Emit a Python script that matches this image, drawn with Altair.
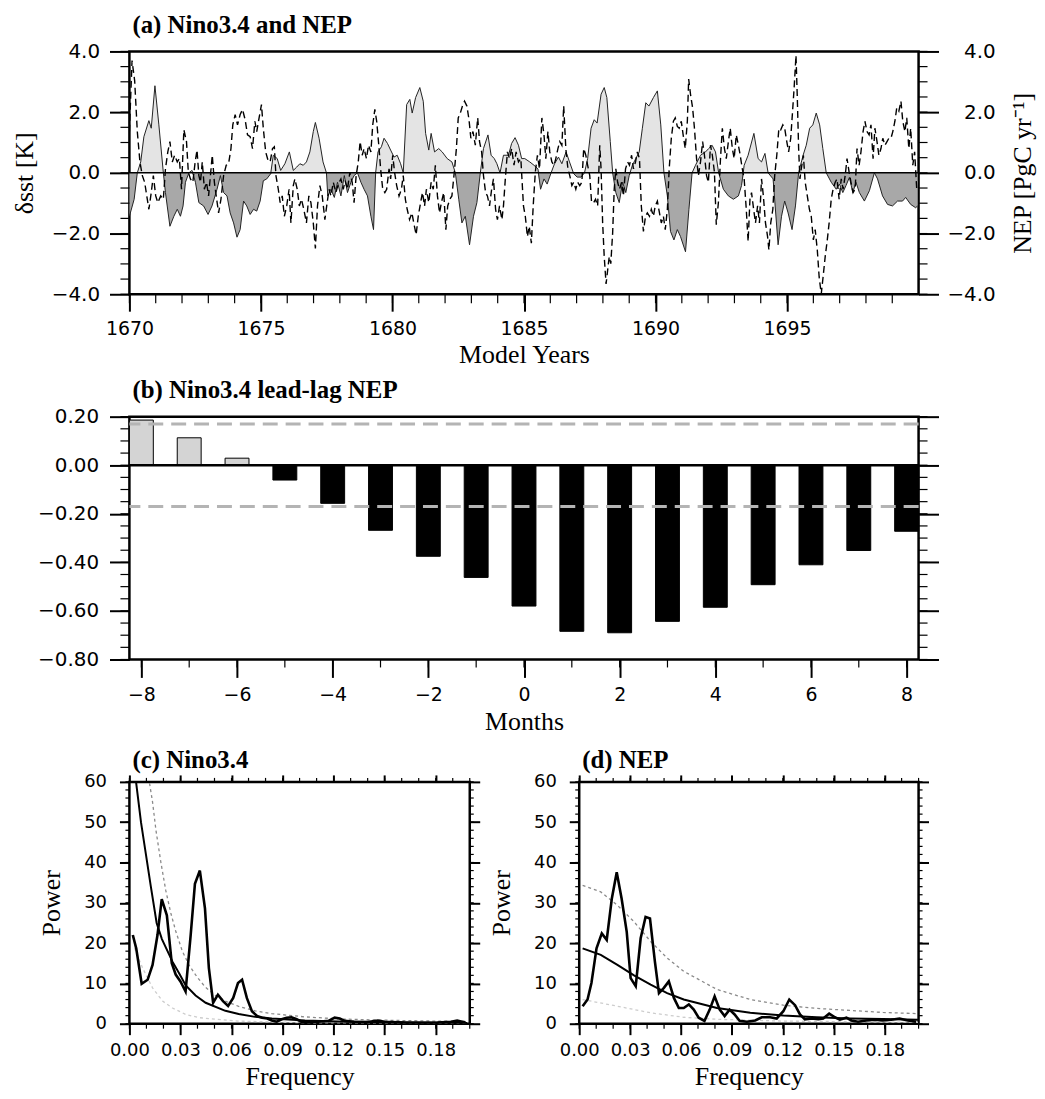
import altair as alt
import pandas as pd

# ---------------- Panel (a): Nino3.4 (solid, filled) and NEP (dashed) ----------------
nino_year = [1670.00, 1670.18, 1670.30, 1670.43, 1670.55, 1670.74, 1670.83, 1670.97, 1671.12, 1671.29,
             1671.37, 1671.54, 1671.69, 1671.82, 1671.94, 1672.04, 1672.13, 1672.26, 1672.38, 1672.51,
             1672.64, 1672.82, 1672.99, 1673.14, 1673.33, 1673.46, 1673.58, 1673.71, 1673.83, 1673.96,
             1674.09, 1674.21, 1674.34, 1674.46, 1674.59, 1674.72, 1674.84, 1674.97, 1675.09, 1675.22,
             1675.37, 1675.47, 1675.62, 1675.75, 1675.91, 1676.08, 1676.23, 1676.36, 1676.48, 1676.61,
             1676.73, 1676.86, 1676.99, 1677.07, 1677.21, 1677.36, 1677.49, 1677.54, 1677.66, 1677.79,
             1677.91, 1678.04, 1678.17, 1678.29, 1678.42, 1678.54, 1678.67, 1678.80, 1678.92, 1679.05,
             1679.18, 1679.28, 1679.36, 1679.45, 1679.58, 1679.68, 1679.81, 1679.93, 1680.06, 1680.18,
             1680.31, 1680.41, 1680.54, 1680.66, 1680.75, 1680.88, 1681.04, 1681.17, 1681.26, 1681.38,
             1681.47, 1681.60, 1681.76, 1681.89, 1682.08, 1682.26, 1682.39, 1682.52, 1682.64, 1682.77,
             1682.93, 1683.08, 1683.21, 1683.34, 1683.46, 1683.63, 1683.75, 1683.87, 1683.97, 1684.09,
             1684.22, 1684.41, 1684.53, 1684.66, 1684.79, 1684.91, 1685.03, 1685.22, 1685.38, 1685.53,
             1685.63, 1685.76, 1685.88, 1686.03, 1686.16, 1686.31, 1686.44, 1686.60, 1686.73, 1686.89,
             1687.02, 1687.17, 1687.30, 1687.42, 1687.55, 1687.67, 1687.78, 1687.93, 1688.05, 1688.15,
             1688.28, 1688.37, 1688.49, 1688.62, 1688.75, 1688.87, 1689.00, 1689.12, 1689.25, 1689.38,
             1689.50, 1689.63, 1689.75, 1689.92, 1690.07, 1690.20, 1690.32, 1690.45, 1690.57, 1690.70,
             1690.83, 1690.95, 1691.14, 1691.27, 1691.39, 1691.52, 1691.71, 1691.90, 1692.02, 1692.15,
             1692.28, 1692.40, 1692.58, 1692.77, 1692.96, 1693.15, 1693.27, 1693.37, 1693.52, 1693.74,
             1693.90, 1694.03, 1694.16, 1694.28, 1694.47, 1694.66, 1694.79, 1694.91, 1695.04, 1695.19,
             1695.32, 1695.44, 1695.61, 1695.73, 1695.86, 1695.98, 1696.11, 1696.24, 1696.36, 1696.49,
             1696.68, 1696.87, 1696.99, 1697.12, 1697.24, 1697.37, 1697.50, 1697.62, 1697.75, 1697.94,
             1698.13, 1698.32, 1698.44, 1698.63, 1698.82, 1699.01, 1699.20, 1699.39, 1699.51, 1699.70,
             1699.89, 1699.96]
nino_sst = [-1.43, -0.87, 0.00, 0.36, 1.19, 1.72, 1.47, 2.87, 1.58, 0.00,
            -0.65, -1.76, -1.43, -1.20, -1.43, -1.09, -0.31, 0.00, 0.08, -0.31,
            -0.98, -1.09, -1.37, -1.09, -0.54, -0.09, -0.65, -0.76, -1.32, -1.65,
            -2.12, -1.87, -0.93, -1.09, -1.37, -1.20, -1.26, -0.93, -0.26, -0.20,
            -0.03, 0.58, 0.47, 0.08, 0.30, 0.69, 0.08, 0.19, 0.30, 0.25,
            0.36, 0.69, 1.36, 1.66, 1.14, 0.36, 0.00, -0.76, -0.54, -0.81,
            -0.31, -0.76, -0.09, -0.65, -0.31, -0.09, 0.00, -0.31, -0.54, -0.76,
            -1.43, -1.87, 0.00, 0.69, 0.86, 1.14, 0.97, 0.75, 0.52, 0.58,
            0.30, 0.00, 2.25, 2.42, 1.97, 2.48, 2.81, 2.36, 1.30, 0.75,
            1.30, 0.69, 0.80, 0.69, 0.47, 0.36, 0.00, -0.87, -1.65, -1.43,
            -2.37, -1.43, -0.98, 0.00, 0.80, 1.25, 0.58, 0.47, 0.30, 0.00,
            0.58, 0.58, 0.97, 1.16, 0.91, 0.47, 0.47, 0.36, 0.25, 0.13,
            -0.54, -0.20, -0.37, 0.00, 0.30, 0.52, 0.30, 0.69, 0.36, -0.03,
            -0.14, -0.14, 0.00, 0.47, 1.47, 1.75, 1.64, 2.59, 2.81, 2.48,
            1.03, 0.00, -0.65, -0.98, -0.31, -0.65, -0.09, 0.25, 0.47, 0.69,
            1.47, 2.31, 2.20, 2.48, 2.70, 1.58, 0.00, -0.76, -1.93, -2.21,
            -1.87, -2.10, -2.60, -1.20, 0.00, 0.25, 0.58, 0.69, 0.80, 0.91,
            0.69, 0.00, -0.54, -0.76, -0.87, -0.76, -0.42, 0.25, 0.58, 1.30,
            0.47, 0.36, 0.64, 0.00, -0.20, -2.37, -1.43, -0.93, -1.32, -1.87,
            -1.09, 0.00, 0.58, 0.91, 1.47, 1.58, 1.97, 1.58, 0.80, 0.00,
            -0.31, -0.54, -0.37, -0.65, -0.42, -0.15, -0.65, -0.31, -0.65, -0.93,
            -0.59, 0.00, -0.20, -0.76, -1.04, -1.09, -0.93, -0.93, -0.81, -1.04,
            -1.15, -1.09]

nep_year = [1670.00, 1670.10, 1670.20, 1670.30, 1670.40, 1670.49, 1670.58, 1670.66, 1670.74, 1670.83,
            1670.91, 1671.00, 1671.08, 1671.19, 1671.29, 1671.37, 1671.46, 1671.54, 1671.63, 1671.72,
            1671.82, 1671.90, 1671.98, 1672.07, 1672.17, 1672.24, 1672.32, 1672.41, 1672.50, 1672.57,
            1672.64, 1672.70, 1672.77, 1672.85, 1672.93, 1673.01, 1673.08, 1673.15, 1673.23, 1673.30,
            1673.39, 1673.48, 1673.58, 1673.68, 1673.77, 1673.86, 1673.93, 1674.02, 1674.11, 1674.21,
            1674.30, 1674.40, 1674.49, 1674.59, 1674.68, 1674.77, 1674.84, 1674.93, 1675.02, 1675.09,
            1675.18, 1675.27, 1675.35, 1675.44, 1675.51, 1675.57, 1675.66, 1675.73, 1675.81, 1675.89,
            1675.98, 1676.07, 1676.14, 1676.23, 1676.29, 1676.38, 1676.46, 1676.54, 1676.63, 1676.73,
            1676.82, 1676.90, 1676.99, 1677.07, 1677.15, 1677.24, 1677.33, 1677.43, 1677.50, 1677.59,
            1677.66, 1677.75, 1677.85, 1677.94, 1678.04, 1678.13, 1678.20, 1678.29, 1678.38, 1678.47,
            1678.54, 1678.62, 1678.70, 1678.77, 1678.85, 1678.92, 1679.01, 1679.09, 1679.18, 1679.25,
            1679.33, 1679.40, 1679.48, 1679.55, 1679.63, 1679.71, 1679.78, 1679.87, 1679.93, 1680.01,
            1680.08, 1680.16, 1680.25, 1680.34, 1680.41, 1680.49, 1680.56, 1680.65, 1680.74, 1680.81,
            1680.90, 1680.98, 1681.07, 1681.14, 1681.22, 1681.29, 1681.38, 1681.47, 1681.55, 1681.63,
            1681.71, 1681.79, 1681.86, 1681.95, 1682.03, 1682.10, 1682.18, 1682.26, 1682.35, 1682.43,
            1682.50, 1682.58, 1682.66, 1682.74, 1682.83, 1682.91, 1682.98, 1683.06, 1683.15, 1683.24,
            1683.31, 1683.39, 1683.46, 1683.54, 1683.61, 1683.69, 1683.77, 1683.84, 1683.92, 1683.99,
            1684.07, 1684.16, 1684.22, 1684.29, 1684.37, 1684.45, 1684.53, 1684.62, 1684.70, 1684.79,
            1684.88, 1684.98, 1685.05, 1685.13, 1685.20, 1685.28, 1685.35, 1685.43, 1685.51, 1685.59,
            1685.68, 1685.76, 1685.83, 1685.91, 1685.98, 1686.06, 1686.14, 1686.21, 1686.29, 1686.36,
            1686.44, 1686.51, 1686.59, 1686.67, 1686.74, 1686.82, 1686.89, 1686.97, 1687.04, 1687.12,
            1687.20, 1687.27, 1687.35, 1687.42, 1687.50, 1687.57, 1687.65, 1687.72, 1687.80, 1687.88,
            1687.93, 1687.99, 1688.05, 1688.12, 1688.18, 1688.24, 1688.30, 1688.37, 1688.43, 1688.49,
            1688.56, 1688.63, 1688.71, 1688.78, 1688.86, 1688.94, 1689.01, 1689.09, 1689.16, 1689.24,
            1689.31, 1689.39, 1689.46, 1689.54, 1689.62, 1689.69, 1689.77, 1689.84, 1689.92, 1689.99,
            1690.07, 1690.15, 1690.22, 1690.30, 1690.37, 1690.45, 1690.52, 1690.60, 1690.68, 1690.75,
            1690.83, 1690.90, 1690.98, 1691.05, 1691.13, 1691.21, 1691.26, 1691.33, 1691.41, 1691.48,
            1691.56, 1691.63, 1691.71, 1691.79, 1691.86, 1691.94, 1692.01, 1692.09, 1692.16, 1692.24,
            1692.31, 1692.39, 1692.47, 1692.54, 1692.62, 1692.69, 1692.77, 1692.84, 1692.92, 1692.99,
            1693.07, 1693.15, 1693.22, 1693.30, 1693.37, 1693.45, 1693.52, 1693.59, 1693.65, 1693.73,
            1693.80, 1693.88, 1693.95, 1694.03, 1694.10, 1694.18, 1694.26, 1694.31, 1694.38, 1694.46,
            1694.53, 1694.61, 1694.69, 1694.76, 1694.84, 1694.91, 1694.99, 1695.06, 1695.14, 1695.21,
            1695.27, 1695.34, 1695.39, 1695.44, 1695.49, 1695.54, 1695.62, 1695.69, 1695.77, 1695.85,
            1695.92, 1696.00, 1696.07, 1696.15, 1696.22, 1696.30, 1696.37, 1696.45, 1696.53, 1696.60,
            1696.68, 1696.75, 1696.83, 1696.90, 1696.98, 1697.06, 1697.13, 1697.21, 1697.28, 1697.36,
            1697.43, 1697.51, 1697.59, 1697.66, 1697.74, 1697.81, 1697.89, 1697.96, 1698.04, 1698.12,
            1698.19, 1698.27, 1698.34, 1698.42, 1698.49, 1698.57, 1698.64, 1698.72, 1698.80, 1698.87,
            1698.95, 1699.02, 1699.10, 1699.17, 1699.25, 1699.33, 1699.40, 1699.48, 1699.55, 1699.63,
            1699.70, 1699.78, 1699.85, 1699.93]
nep_flux = [1.36, 3.70, 3.03, 1.36, 0.36, -0.09, -0.31, -0.76, -1.20, -0.65,
            -0.09, -0.76, -0.98, -0.76, -0.87, 0.13, 0.69, 1.03, 0.36, 0.58,
            0.36, 0.47, -0.54, 1.42, 1.03, 0.02, -0.20, -0.31, 0.36, 0.75,
            -0.09, -0.31, 0.36, -0.54, -0.31, -0.76, -0.09, 0.58, -0.31, -0.76,
            -1.32, -0.87, -0.09, 0.25, 0.30, 0.80, 1.58, 1.92, 1.58, 1.92,
            2.09, 1.75, 1.25, 1.19, 0.80, 1.70, 1.36, 1.81, 2.25, 1.47,
            0.69, 0.41, 0.36, 0.80, 0.86, -0.09, -0.54, -0.98, -0.76, -1.43,
            -1.09, -0.54, -1.65, -0.42, -0.20, -0.54, -1.09, -0.87, -1.20, -1.65,
            -0.76, -0.98, -1.65, -2.49, -1.09, -0.42, -0.76, -1.54, -1.09, -0.54,
            -0.76, -0.31, -0.65, -0.37, -0.20, -0.54, -0.26, -0.54, 0.02, -0.31,
            -0.98, -0.09, 0.36, 1.03, 0.58, 0.80, 0.47, 0.91, 0.69, 1.58,
            2.09, 1.70, 0.91, 0.13, -0.54, -0.65, -0.54, 0.13, -0.20, 0.58,
            0.02, -0.42, -0.76, -0.54, -0.09, -0.87, -1.20, -1.54, -1.32, -1.65,
            -2.04, -1.43, -0.98, -0.65, -1.09, -0.54, -0.98, -0.31, -0.54, 0.25,
            -0.76, -1.32, -0.98, -0.65, -1.87, -1.09, -0.87, -0.76, 0.02, 0.80,
            1.81, 1.97, 2.20, 2.36, 2.20, 1.75, 1.14, 1.36, 0.91, 1.81,
            1.03, 0.69, -0.09, -0.65, -0.76, -1.09, -0.54, -0.20, -1.20, -1.54,
            -1.09, -1.54, -1.09, -0.20, 0.69, 0.47, 0.80, 0.25, 0.69, 0.36,
            0.47, -1.09, -1.43, -2.10, -1.76, -2.32, -1.09, 0.02, 0.58, 0.13,
            1.81, 1.25, 0.47, 1.36, 0.69, 0.36, 0.25, 0.47, 0.80, 1.03,
            0.91, 2.20, 0.80, 0.13, -0.09, -0.42, -0.31, -0.54, -0.31, -0.42,
            -0.31, 0.80, 0.58, 0.25, -0.09, -0.98, -0.98, -0.87, -1.09, 0.91,
            0.13, -1.65, -2.76, -3.66, -3.21, -2.76, -2.99, -1.98, -0.54, 0.13,
            -0.31, -0.54, -0.31, -0.76, 0.13, 0.36, 0.25, 0.58, 0.13, 0.36,
            0.69, 0.47, -1.09, -1.93, -1.43, -1.32, -1.43, -1.20, -1.43, -1.09,
            -0.93, -1.32, -1.65, -1.43, -1.87, -1.20, 0.13, 1.14, 1.70, 1.81,
            1.53, 1.47, 1.70, 1.25, 0.80, 1.70, 3.09, 2.59, 2.14, 1.47,
            0.47, -0.09, 0.36, 1.03, 0.58, -0.09, -0.31, 0.91, 0.58, 0.02,
            -1.71, -0.98, 0.47, 1.47, 0.80, 0.47, 1.03, 1.47, 0.80, 0.47,
            1.25, 0.91, 0.58, 0.13, -0.20, -1.20, -2.26, -0.87, -0.65, -1.20,
            -1.65, -1.09, -1.65, -0.20, -0.76, -1.65, -2.10, -2.54, -1.65, -1.20,
            -0.09, 0.58, 1.47, 1.42, 1.58, 1.47, 1.03, 0.69, 1.14, 2.03,
            2.81, 3.87, 2.48, 0.80, -0.20, 0.13, 0.58, -0.31, -0.76, -1.20,
            -1.43, -2.21, -1.87, -2.54, -3.43, -3.99, -3.43, -2.76, -2.21, -1.65,
            -0.87, -0.54, -0.31, -0.20, -0.87, -0.20, -0.54, -0.09, 0.47, 0.02,
            -0.31, -0.65, -0.54, 0.80, 0.25, 0.69, 1.36, 1.70, 1.36, 1.25,
            1.58, 0.47, 1.47, 1.03, 0.58, 0.80, 1.14, 0.91, 1.03, 1.14,
            1.14, 1.36, 1.70, 2.14, 2.03, 2.36, 1.70, 1.36, 1.81, 0.80,
            1.47, 0.25, 0.69, -0.54]

# ---------------- Panel (b): lead-lag correlation ----------------
lag_month = [-8, -7, -6, -5, -4, -3, -2, -1, 0, 1, 2, 3, 4, 5, 6, 7, 8]
lag_corr = [0.186, 0.113, 0.029, -0.061, -0.157, -0.268, -0.375, -0.462, -0.580,
            -0.684, -0.690, -0.643, -0.585, -0.492, -0.410, -0.351, -0.272]
sig_corr = [0.17, -0.17]

# ---------------- Panel (c): Nino3.4 spectrum ----------------
c_spec_freq = [0.002, 0.004, 0.0072, 0.0107, 0.0136, 0.0165, 0.019, 0.022, 0.0249, 0.0272,
               0.030, 0.033, 0.036, 0.0385, 0.0414, 0.0444, 0.0467, 0.0492, 0.052, 0.055,
               0.058, 0.061, 0.0638, 0.0662, 0.069, 0.072, 0.075, 0.078, 0.081, 0.0837,
               0.0866, 0.0895, 0.0924, 0.0953, 0.0983, 0.101, 0.105, 0.111, 0.117, 0.1206,
               0.1236, 0.1265, 0.132, 0.140, 0.146, 0.150, 0.1615, 0.171, 0.181, 0.189,
               0.1926, 0.1975]
c_spec_pow = [22.0, 18.7, 9.9, 10.9, 14.6, 22.0, 30.9, 26.9, 15.0, 12.2,
              10.5, 8.0, 22.0, 34.7, 38.0, 28.6, 13.8, 5.2, 7.2, 5.6,
              4.4, 6.4, 10.1, 10.9, 6.4, 3.1, 1.9, 1.5, 1.3, 0.8,
              0.5, 1.1, 1.5, 1.6, 1.1, 0.5, 0.5, 0.5, 0.7, 1.5,
              1.3, 0.7, 0.5, 0.4, 0.8, 0.5, 0.3, 0.25, 0.3, 0.5,
              0.8, 0.3]
c_red_freq = [0.002, 0.0039, 0.0068, 0.0097, 0.0126, 0.016, 0.0191, 0.0253, 0.0292, 0.0331,
              0.0389, 0.0448, 0.0564, 0.0642, 0.0739, 0.0837, 0.1031, 0.1226, 0.142, 0.1985]
c_red_pow = [72.0, 60.0, 50.0, 42.0, 34.0, 25.0, 21.0, 15.4, 12.5, 9.5,
             7.0, 5.2, 3.2, 2.4, 1.7, 1.3, 0.8, 0.55, 0.4, 0.2]
c_hi_freq = [0.010, 0.0117, 0.0136, 0.0156, 0.0185, 0.0214, 0.0243, 0.0272, 0.0311, 0.035,
             0.0399, 0.0448, 0.0506, 0.0564, 0.0642, 0.0739, 0.0837, 0.1031, 0.1226, 0.142,
             0.1712, 0.1985]
c_hi_pow = [70.0, 60.0, 55.0, 48.0, 40.0, 33.0, 27.5, 23.0, 18.0, 14.6,
            11.5, 9.0, 7.0, 5.6, 4.3, 3.2, 2.5, 1.7, 1.2, 0.95,
            0.7, 0.55]
c_lo_freq = [0.003, 0.0078, 0.0136, 0.0195, 0.0253, 0.0331, 0.0409, 0.064, 0.103, 0.1985]
c_lo_pow = [18.7, 13.8, 8.9, 5.6, 3.9, 2.3, 1.5, 0.65, 0.25, 0.15]

# ---------------- Panel (d): NEP spectrum ----------------
d_spec_freq = [0.002, 0.0049, 0.0072, 0.0102, 0.0133, 0.0162, 0.0192, 0.0221, 0.025, 0.028,
               0.0303, 0.0333, 0.0362, 0.0391, 0.0417, 0.0446, 0.047, 0.0499, 0.0528, 0.0558,
               0.0587, 0.0616, 0.0646, 0.0675, 0.0704, 0.0738, 0.0769, 0.0798, 0.0828, 0.0857,
               0.0886, 0.0916, 0.0945, 0.0988, 0.1037, 0.1076, 0.1125, 0.1164, 0.1203, 0.1238,
               0.1272, 0.1301, 0.133, 0.137, 0.1409, 0.1438, 0.1473, 0.1507, 0.1536, 0.1575,
               0.1604, 0.1643, 0.1692, 0.1741, 0.179, 0.1839, 0.1888, 0.1937, 0.1986]
d_spec_pow = [4.35, 6.0, 10.1, 18.7, 22.4, 20.8, 31.0, 37.6, 31.0, 22.8,
              11.3, 9.3, 21.2, 26.5, 26.1, 15.4, 7.6, 8.9, 10.5, 6.4,
              3.9, 3.9, 4.8, 3.5, 1.5, 0.7, 3.5, 6.8, 3.5, 1.9,
              3.5, 2.3, 0.7, 0.5, 0.8, 1.6, 1.6, 1.3, 3.1, 6.0,
              4.6, 2.3, 1.1, 1.3, 1.1, 1.3, 2.5, 1.6, 1.0, 1.5,
              0.8, 0.5, 0.8, 1.0, 0.8, 1.0, 1.3, 0.8, 0.5]
d_red_freq = [0.002, 0.0127, 0.0225, 0.0323, 0.0421, 0.0518, 0.0616, 0.0812, 0.1008, 0.1203,
              0.1399, 0.1595, 0.179, 0.1996]
d_red_pow = [18.7, 17.1, 14.6, 12.0, 9.7, 7.6, 6.0, 3.9, 2.7, 2.05, 1.6, 1.3, 1.15, 1.0]
d_hi_freq = d_red_freq
d_hi_pow = [34.3, 32.7, 29.4, 25.3, 20.4, 16.3, 13.0, 8.5, 6.0, 4.6, 3.8, 3.3, 2.8, 2.5]
d_lo_freq = [0.002, 0.0225, 0.0421, 0.0616, 0.0812, 0.1203, 0.1595, 0.1996]
d_lo_pow = [6.0, 4.35, 2.7, 1.6, 1.1, 0.65, 0.5, 0.35]

# ---------------- tick values ----------------
a_x_major = [1670, 1675, 1680, 1685, 1690, 1695]
a_x_minor = list(range(1670, 1700))
a_y_major = [-4, -2, 0, 2, 4]
a_y_minor = [-4 + 0.5 * i for i in range(17)]
b_x_major = [-8, -6, -4, -2, 0, 2, 4, 6, 8]
b_x_minor = list(range(-8, 9))
b_y_major = [-0.8, -0.6, -0.4, -0.2, 0.0, 0.2]
b_y_minor = [round(-0.8 + 0.05 * i, 2) for i in range(21)]
cd_x_major = [0.0, 0.03, 0.06, 0.09, 0.12, 0.15, 0.18]
cd_x_minor = [round(0.01 * i, 2) for i in range(21)]
cd_y_major = [0, 10, 20, 30, 40, 50, 60]
cd_y_minor = list(range(0, 61, 2))

SANS = "DejaVu Sans"
SERIF = "Liberation Serif"


def major_axis(orient, values, fmt, size, title=None, labels=True, label_pad=4,
               title_pad=6, title_angle=None, title_baseline=None, label_align=None,
               label_size=18, title_size=26):
    kw = dict(orient=orient, values=values, domain=False, grid=False, ticks=True,
              tickColor="black", tickSize=size, tickWidth=2, labels=labels, title=title)
    if labels:
        kw.update(format=fmt, labelFont=SANS, labelFontSize=label_size, labelColor="black",
                  labelOverlap=False, labelFlush=False, labelPadding=label_pad)
        if label_align:
            kw["labelAlign"] = label_align
    if title:
        kw.update(titleFont=SERIF, titleFontSize=title_size, titleFontWeight="normal",
                  titleColor="black", titlePadding=title_pad)
        if title_angle is not None:
            kw["titleAngle"] = title_angle
        if title_baseline:
            kw["titleBaseline"] = title_baseline
    return alt.Axis(**kw)


def minor_ticks(values, scale, orient, length, w, h):
    """Short tick marks drawn just outside the frame at the given axis values."""
    base = alt.Chart(pd.DataFrame({"t": values})).mark_rule(
        color="black", strokeWidth=1.2, clip=False)
    if orient == "left":
        return base.encode(y=alt.Y("t:Q", scale=scale, axis=None),
                           x=alt.value(-length), x2=alt.value(0))
    if orient == "right":
        return base.encode(y=alt.Y("t:Q", scale=scale, axis=None),
                           x=alt.value(w), x2=alt.value(w + length))
    if orient == "bottom":
        return base.encode(x=alt.X("t:Q", scale=scale, axis=None),
                           y=alt.value(h), y2=alt.value(h + length))
    return base.encode(x=alt.X("t:Q", scale=scale, axis=None),
                       y=alt.value(-length), y2=alt.value(0))


def panel_title(text, offset, size=25):
    return alt.TitleParams(text=text, anchor="start", frame="group", font=SERIF,
                           fontWeight="bold", fontSize=size, color="black",
                           offset=offset, dx=3)


# ---------------- Panel (a) ----------------
W, HA = 793, 244
df_nino = pd.DataFrame({"year": nino_year, "sst": nino_sst})
df_nep = pd.DataFrame({"year": nep_year, "nep": nep_flux})

xa_scale = alt.Scale(domain=[1670, 1700], nice=False, zero=False)
ya_scale = alt.Scale(domain=[-4, 4], nice=False, zero=False)

base_n = alt.Chart(df_nino).transform_calculate(
    pos="max(datum.sst, 0)", neg="min(datum.sst, 0)", zero="0")

a_pos = base_n.mark_area(color="#e4e4e4").encode(
    x=alt.X("year:Q", scale=xa_scale,
            axis=major_axis("bottom", a_x_major, "d", 17, title="Model Years",
                            label_pad=8, title_pad=4, label_size=19)),
    y=alt.Y("pos:Q", scale=ya_scale,
            axis=major_axis("left", a_y_major, ".1f", 20, title="δsst [K]",
                            label_pad=10, title_pad=14, label_size=20)),
    y2="zero:Q")
a_neg = base_n.mark_area(color="#a8a8a8").encode(
    x=alt.X("year:Q", scale=xa_scale, axis=None),
    y=alt.Y("neg:Q", scale=ya_scale, axis=None),
    y2="zero:Q")
a_line = base_n.mark_line(color="#222222", strokeWidth=1).encode(
    x=alt.X("year:Q", scale=xa_scale, axis=None),
    y=alt.Y("sst:Q", scale=ya_scale, axis=None))
a_zero = alt.Chart(pd.DataFrame({"v": [0.0]})).mark_rule(color="black", strokeWidth=1.5).encode(
    y=alt.Y("v:Q", scale=ya_scale, axis=None))
a_nep = alt.Chart(df_nep).mark_line(color="black", strokeWidth=1.4, strokeDash=[7, 4],
                                    clip=True).encode(
    x=alt.X("year:Q", scale=xa_scale, axis=None),
    y=alt.Y("nep:Q", scale=ya_scale,
            axis=major_axis("right", a_y_major, ".1f", 20, title="NEP [PgC yr⁻¹]",
                            label_pad=57, title_pad=14, title_angle=270,
                            title_baseline="top", label_align="right", label_size=20)))

panel_a = alt.layer(
    a_pos, a_neg, a_line, a_zero, a_nep,
    minor_ticks(a_x_minor, xa_scale, "bottom", 9, W, HA),
    minor_ticks(a_y_minor, ya_scale, "left", 9, W, HA),
    minor_ticks(a_y_minor, ya_scale, "right", 9, W, HA),
).resolve_axis(x="independent", y="independent").properties(
    width=W, height=HA, title=panel_title("(a) Nino3.4 and NEP", 4))

# ---------------- Panel (b) ----------------
HB = 244
df_lag = pd.DataFrame({"month": lag_month, "corr": lag_corr})
xb_scale = alt.Scale(domain=[-8.25, 8.25], nice=False, zero=False)
yb_scale = alt.Scale(domain=[-0.8, 0.2], nice=False, zero=False)

b_bars = alt.Chart(df_lag).transform_calculate(
    lo="datum.month - 0.25", hi="datum.month + 0.25", zero="0").mark_bar(
    stroke="black", strokeWidth=1).encode(
    x=alt.X("lo:Q", scale=xb_scale,
            axis=major_axis("bottom", b_x_major, "d", 18, title="Months",
                            label_pad=8, title_pad=4, label_size=19)),
    x2="hi:Q",
    y=alt.Y("corr:Q", scale=yb_scale,
            axis=major_axis("left", b_y_major, ".2f", 20, label_pad=11, label_size=20)),
    y2="zero:Q",
    color=alt.condition("datum.corr > 0", alt.value("#d4d4d4"), alt.value("black")))
b_sig = alt.Chart(pd.DataFrame({"s": sig_corr})).mark_rule(
    color="#b4b4b4", strokeWidth=3, strokeDash=[15, 8]).encode(
    y=alt.Y("s:Q", scale=yb_scale,
            axis=major_axis("right", b_y_major, ".2f", 20, labels=False)))
b_zero = alt.Chart(pd.DataFrame({"v": [0.0]})).mark_rule(color="black", strokeWidth=2.5).encode(
    y=alt.Y("v:Q", scale=yb_scale, axis=None))

panel_b = alt.layer(
    b_bars, b_zero, b_sig,
    minor_ticks(b_x_minor, xb_scale, "bottom", 8, W, HB),
    minor_ticks(b_y_minor, yb_scale, "left", 9, W, HB),
    minor_ticks(b_y_minor, yb_scale, "right", 9, W, HB),
).resolve_axis(x="independent", y="independent").properties(
    width=W, height=HB, title=panel_title("(b) Nino3.4 lead-lag NEP", 4))

# ---------------- Panels (c) and (d) ----------------
HC = 243
xc_scale = alt.Scale(domain=[0, 0.2], nice=False, zero=False)
yc_scale = alt.Scale(domain=[0, 60], nice=False, zero=False)


def spectrum_panel(sf, sp, rf, rp, hf, hp, lf, lp, title_text, width):
    d_s = pd.DataFrame({"f": sf, "p": sp})
    d_r = pd.DataFrame({"f": rf, "p": rp})
    d_h = pd.DataFrame({"f": hf, "p": hp})
    d_l = pd.DataFrame({"f": lf, "p": lp})
    lo = alt.Chart(d_l).mark_line(color="#cdcdcd", strokeWidth=1.3, strokeDash=[3, 3],
                                  clip=True).encode(
        x=alt.X("f:Q", scale=xc_scale, axis=None),
        y=alt.Y("p:Q", scale=yc_scale, axis=None))
    hi = alt.Chart(d_h).mark_line(color="#8a8a8a", strokeWidth=1.3, strokeDash=[3, 3],
                                  clip=True).encode(
        x=alt.X("f:Q", scale=xc_scale, axis=None),
        y=alt.Y("p:Q", scale=yc_scale, axis=None))
    red = alt.Chart(d_r).mark_line(color="black", strokeWidth=2, clip=True).encode(
        x=alt.X("f:Q", scale=xc_scale,
                axis=major_axis("top", cd_x_major, ".2f", 7, labels=False)),
        y=alt.Y("p:Q", scale=yc_scale,
                axis=major_axis("right", cd_y_major, "d", 10, labels=False)))
    spec = alt.Chart(d_s).mark_line(color="black", strokeWidth=2.6, clip=True).encode(
        x=alt.X("f:Q", scale=xc_scale,
                axis=major_axis("bottom", cd_x_major, ".2f", 11, title="Frequency",
                                label_pad=7, title_pad=4)),
        y=alt.Y("p:Q", scale=yc_scale,
                axis=major_axis("left", cd_y_major, "d", 10, title="Power",
                                label_pad=13, title_pad=19)))
    return alt.layer(
        lo, hi, red, spec,
        minor_ticks(cd_x_minor, xc_scale, "bottom", 5, width, HC),
        minor_ticks(cd_x_minor, xc_scale, "top", 4, width, HC),
        minor_ticks(cd_y_minor, yc_scale, "left", 4, width, HC),
        minor_ticks(cd_y_minor, yc_scale, "right", 4, width, HC),
    ).resolve_axis(x="independent", y="independent").properties(
        width=width, height=HC, title=panel_title(title_text, 0))


panel_c = spectrum_panel(c_spec_freq, c_spec_pow, c_red_freq, c_red_pow, c_hi_freq, c_hi_pow,
                         c_lo_freq, c_lo_pow, "(c) Nino3.4", 342)
panel_d = spectrum_panel(d_spec_freq, d_spec_pow, d_red_freq, d_red_pow, d_hi_freq, d_hi_pow,
                         d_lo_freq, d_lo_pow, "(d) NEP", 341)

bottom = alt.hconcat(panel_c, panel_d, spacing=110, bounds="flush")

chart = alt.vconcat(panel_a, panel_b, bottom, spacing=123, bounds="flush").configure_view(
    stroke="black", strokeWidth=2.5).properties(
    background="white", padding={"left": 2, "top": 0, "right": 0, "bottom": 5})

chart.save("out.html", embed_options={"renderer": "svg", "actions": False})
